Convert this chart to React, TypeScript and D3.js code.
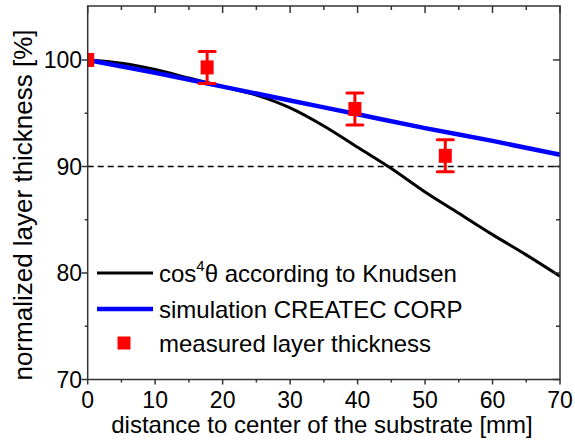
import React from "react";
import * as d3 from "d3";

const knudsenX = [0, 5, 10, 15, 20, 25, 30, 35, 40, 45, 50, 55, 60, 65, 70];
const knudsenY = [100, 99.7, 99.1, 98.3, 97.5, 96.7, 95.5, 93.8, 91.8, 89.8, 87.6, 85.6, 83.6, 81.7, 79.7];

const simX = [0, 10, 20, 30, 40, 50, 60, 70];
const simY = [100, 98.8, 97.5, 96.2, 94.9, 93.6, 92.4, 91.1];

const measX = [0, 17.7, 39.6, 53.0];
const measY = [100, 99.3, 95.4, 91.0];
const measErr = [0, 1.5, 1.5, 1.5];

const xTicks = [0, 10, 20, 30, 40, 50, 60, 70];
const xMinor = [5, 15, 25, 35, 45, 55, 65];
const yTicks = [70, 80, 90, 100];
const yMinor = [75, 85, 95];

const legendLabels = ["according to Knudsen", "simulation CREATEC CORP", "measured layer thickness"];
const xTitle = "distance to center of the substrate [mm]";
const yTitle = "normalized layer thickness [%]";

const L = 87.7, R = 560, T = 6, B = 379.5;
const FONT = "'Liberation Sans', Arial, sans-serif";

export default function App() {
  const x = d3.scaleLinear().domain([0, 70]).range([L, R]);
  const y = d3.scaleLinear().domain([70, 105]).range([B, T + 0.7]);
  const line = d3.line<[number, number]>().x(d => x(d[0])).y(d => y(d[1])).curve(d3.curveMonotoneX);
  const kPts = knudsenX.map((v, i) => [v, knudsenY[i]] as [number, number]);
  const sPts = simX.map((v, i) => [v, simY[i]] as [number, number]);
  const axisColor = "#333";
  const red = "#ff0000";
  return (
    <svg width={575} height={444} style={{ position: "absolute", left: 0, top: 0, background: "#fff" }}>
      <defs>
        <clipPath id="plot">
          <rect x={L} y={T} width={R - L} height={B - T} />
        </clipPath>
      </defs>
      <g clipPath="url(#plot)">
        <line x1={L} x2={R} y1={y(90)} y2={y(90)} stroke="#000" strokeWidth={1.5} strokeDasharray="6,4" />
        <path d={line(kPts) || ""} fill="none" stroke="#000" strokeWidth={3} />
        <path d={line(sPts) || ""} fill="none" stroke="#0000ff" strokeWidth={4.5} />
        {measX.map((mx, i) => (
          <g key={i}>
            {measErr[i] > 0 && (
              <g stroke={red} strokeWidth={3}>
                <line x1={x(mx)} x2={x(mx)} y1={y(measY[i] + measErr[i])} y2={y(measY[i] - measErr[i])} />
                <line x1={x(mx) - 8} x2={x(mx) + 8} y1={y(measY[i] + measErr[i])} y2={y(measY[i] + measErr[i])} strokeLinecap="round" />
                <line x1={x(mx) - 8} x2={x(mx) + 8} y1={y(measY[i] - measErr[i])} y2={y(measY[i] - measErr[i])} strokeLinecap="round" />
              </g>
            )}
            <rect x={x(mx) - 6.5} y={y(measY[i]) - 7} width={13} height={14} fill={red} />
          </g>
        ))}
      </g>
      <rect x={L} y={T} width={R - L} height={B - T} fill="none" stroke={axisColor} strokeWidth={1.5} />
      {xTicks.map(t => (
        <g key={"xb" + t}>
          <line x1={x(t)} x2={x(t)} y1={B} y2={B + 5} stroke={axisColor} strokeWidth={1.5} />
          <line x1={x(t)} x2={x(t)} y1={T} y2={T + 7} stroke={axisColor} strokeWidth={1.5} />
          <text x={x(t)} y={408} textAnchor="middle" fontFamily={FONT} fontSize={23} fill="#000">{t}</text>
        </g>
      ))}
      {xMinor.map(t => (
        <g key={"xm" + t}>
          <line x1={x(t)} x2={x(t)} y1={B} y2={B + 3} stroke={axisColor} strokeWidth={1.5} />
          <line x1={x(t)} x2={x(t)} y1={T} y2={T + 4} stroke={axisColor} strokeWidth={1.5} />
        </g>
      ))}
      {yTicks.map(t => (
        <g key={"yt" + t}>
          <line x1={L - 6} x2={L} y1={y(t)} y2={y(t)} stroke={axisColor} strokeWidth={1.5} />
          <line x1={R - 7} x2={R} y1={y(t)} y2={y(t)} stroke={axisColor} strokeWidth={1.5} />
          <text x={82} y={y(t) + 8.3} textAnchor="end" fontFamily={FONT} fontSize={23} fill="#000">{t}</text>
        </g>
      ))}
      {yMinor.map(t => (
        <g key={"ym" + t}>
          <line x1={L - 3} x2={L} y1={y(t)} y2={y(t)} stroke={axisColor} strokeWidth={1.5} />
          <line x1={R - 4} x2={R} y1={y(t)} y2={y(t)} stroke={axisColor} strokeWidth={1.5} />
        </g>
      ))}
      <text x={322} y={433} textAnchor="middle" fontFamily={FONT} fontSize={24} fill="#000">{xTitle}</text>
      <text transform="translate(32,205) rotate(-90)" textAnchor="middle" fontFamily={FONT} fontSize={26} fill="#000">{yTitle}</text>
      <line x1={97} x2={153} y1={273} y2={273} stroke="#000" strokeWidth={3} />
      <text x={159} y={282} fontFamily={FONT} fontSize={24} fill="#000">
        cos<tspan dy={-11} fontSize={15}>4</tspan><tspan dy={11}>θ {legendLabels[0]}</tspan>
      </text>
      <line x1={97} x2={153} y1={309} y2={309} stroke="#0000ff" strokeWidth={4.5} />
      <text x={159} y={318} fontFamily={FONT} fontSize={24} fill="#000">{legendLabels[1]}</text>
      <rect x={124 - 6.5} y={343 - 6.5} width={13} height={13} fill={red} />
      <text x={159} y={352} fontFamily={FONT} fontSize={24} fill="#000">{legendLabels[2]}</text>
    </svg>
  );
}
